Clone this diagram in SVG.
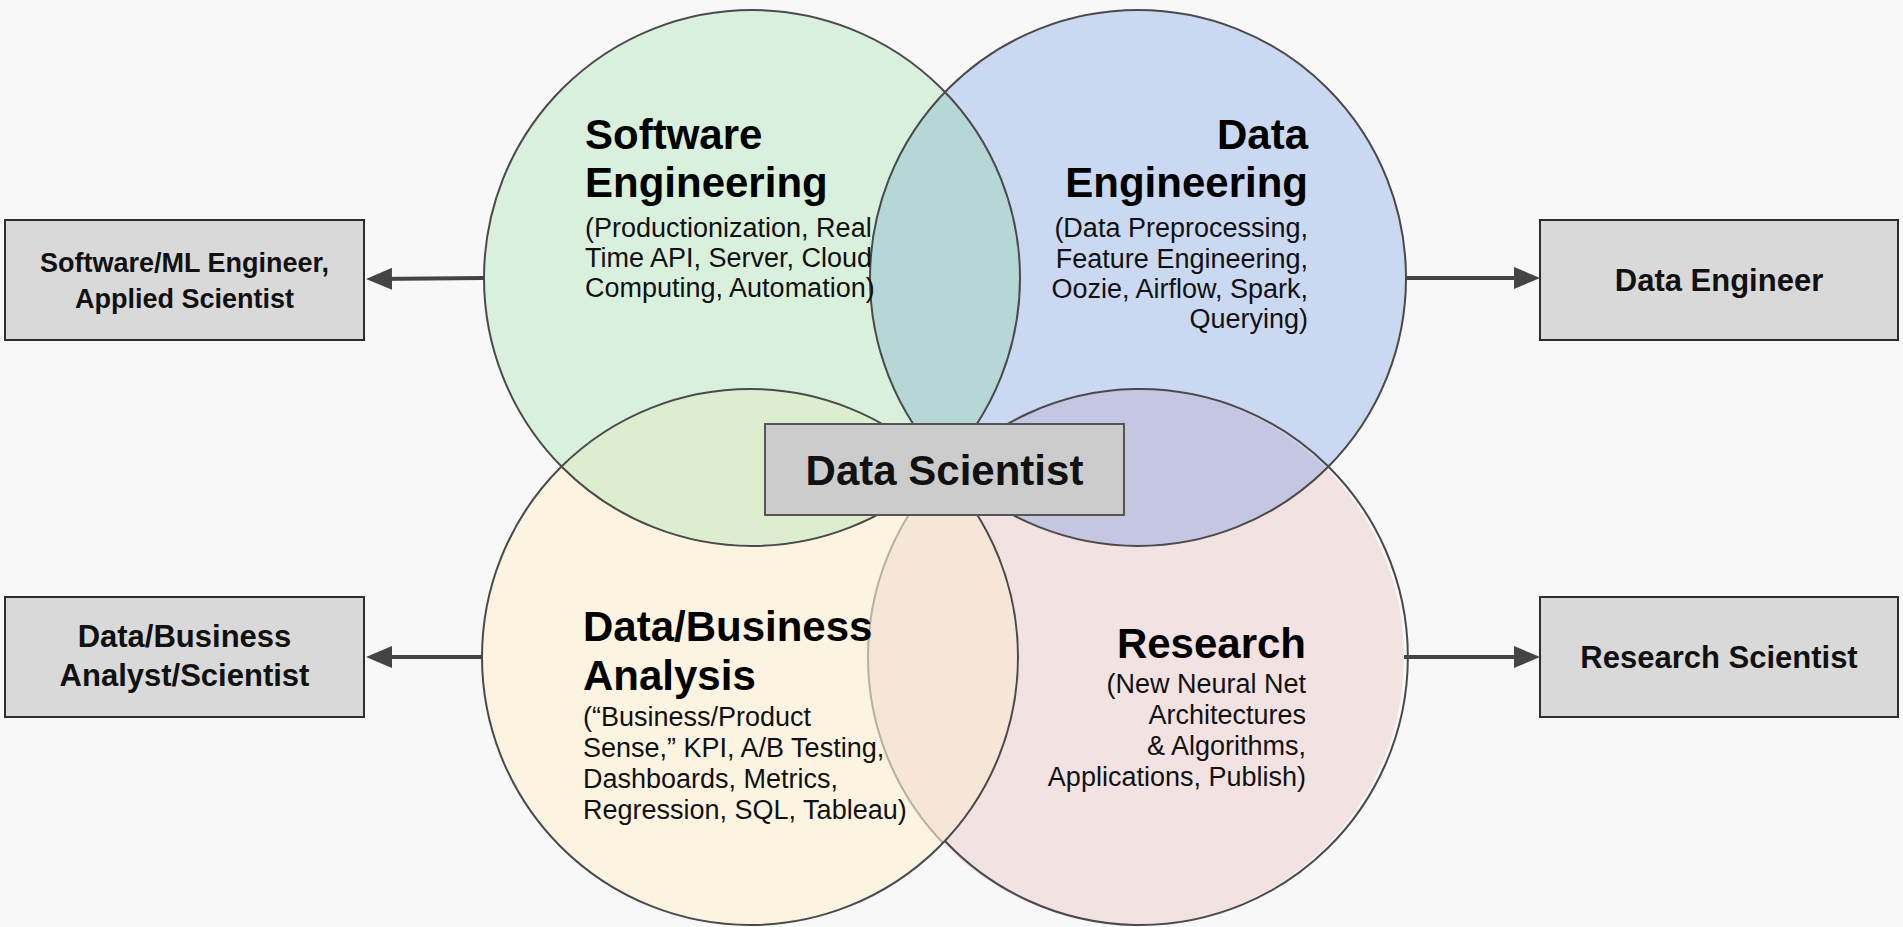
<svg xmlns="http://www.w3.org/2000/svg" width="1903" height="927" viewBox="0 0 1903 927">
  <style>
    .circ { stroke: #4a4a4a; stroke-width: 2; }
    .box { fill: #d9d9d9; stroke: #2e2e2e; stroke-width: 2; }
    .dsbox { fill: #cccccc; stroke: #555555; stroke-width: 2; }
    .head { font-family: "Liberation Sans", Arial, sans-serif; font-weight: bold; font-size: 42px; fill: #000; }
    .sub { font-family: "Liberation Sans", Arial, sans-serif; font-size: 27px; fill: #111; }
    .lbl { font-family: "Liberation Sans", Arial, sans-serif; font-weight: bold; fill: #111; text-anchor: middle; }
    .conn { stroke: #444444; stroke-width: 4; fill: none; marker-end: url(#arrow); }
  </style>
  <defs>
    <marker id="arrow" markerUnits="userSpaceOnUse" markerWidth="26" markerHeight="22" refX="18" refY="11" orient="auto">
      <path d="M0,0 L26,11 L0,22 z" fill="#444444"/>
    </marker>
    <clipPath id="clipGreen"><circle cx="752" cy="278" r="268"/></clipPath>
    <clipPath id="clipBlue"><circle cx="1138" cy="278" r="268"/></clipPath>
    <clipPath id="clipYellow"><circle cx="750" cy="657" r="268"/></clipPath>
    <clipPath id="clipPink"><circle cx="1136" cy="657" r="268"/></clipPath>
  </defs>

  <rect x="0" y="0" width="1903" height="927" fill="#f8f8f8"/>

  <!-- circle fills -->
  <g id="venn-fills">
    <circle cx="752" cy="278" r="268" fill="#d9f0dc"/>
    <circle cx="1138" cy="278" r="268" fill="#cad8f1"/>
    <circle cx="1136" cy="657" r="268" fill="#f2e2e2"/>
    <circle cx="750" cy="657" r="268" fill="#fcf3e1"/>
    <!-- overlaps -->
    <circle cx="1138" cy="278" r="268" fill="#b5d8d6" clip-path="url(#clipGreen)"/>
    <circle cx="750" cy="657" r="268" fill="#ddeecf" clip-path="url(#clipGreen)"/>
    <circle cx="1136" cy="657" r="268" fill="#c5c7e2" clip-path="url(#clipBlue)"/>
    <circle cx="1136" cy="657" r="268" fill="#f6e6d8" clip-path="url(#clipYellow)"/>
  </g>

  <!-- circle outlines -->
  <g id="venn-outlines" fill="none">
    <circle class="circ" cx="752" cy="278" r="268"/>
    <circle class="circ" cx="1138" cy="278" r="268"/>
    <g clip-path="url(#clipYellow)">
      <circle cx="1136" cy="657" r="268" stroke="#b9b09f" stroke-width="2"/>
    </g>
    <path class="circ" d="M 945 841 A 268 268 0 1 0 945 473"/>
    <circle class="circ" cx="750" cy="657" r="268"/>
  </g>

  <g id="software-engineering">
    <text class="head" x="585" y="149">Software</text>
    <text class="head" x="585" y="197">Engineering</text>
    <text class="sub" x="585" y="237">(Productionization, Real</text>
    <text class="sub" x="585" y="267">Time API, Server, Cloud</text>
    <text class="sub" x="585" y="297">Computing, Automation)</text>
  </g>

  <g id="data-engineering" text-anchor="end">
    <text class="head" x="1308" y="149">Data</text>
    <text class="head" x="1308" y="197">Engineering</text>
    <text class="sub" x="1308" y="237">(Data Preprocessing,</text>
    <text class="sub" x="1308" y="267.5">Feature Engineering,</text>
    <text class="sub" x="1308" y="298">Oozie, Airflow, Spark,</text>
    <text class="sub" x="1308" y="328">Querying)</text>
  </g>

  <g id="data-business-analysis">
    <text class="head" x="583" y="641">Data/Business</text>
    <text class="head" x="583" y="690">Analysis</text>
    <text class="sub" x="583" y="726">(“Business/Product</text>
    <text class="sub" x="583" y="757">Sense,” KPI, A/B Testing,</text>
    <text class="sub" x="583" y="788">Dashboards, Metrics,</text>
    <text class="sub" x="583" y="819">Regression, SQL, Tableau)</text>
  </g>

  <g id="research" text-anchor="end">
    <text class="head" x="1306" y="658">Research</text>
    <text class="sub" x="1306" y="693">(New Neural Net</text>
    <text class="sub" x="1306" y="724">Architectures</text>
    <text class="sub" x="1306" y="755">&amp; Algorithms,</text>
    <text class="sub" x="1306" y="786">Applications, Publish)</text>
  </g>

  <g id="data-scientist">
    <rect class="dsbox" x="765" y="424" width="359" height="91"/>
    <text class="lbl" x="944.5" y="485" font-size="42">Data Scientist</text>
  </g>

  <g id="software-ml-engineer">
    <rect class="box" x="5" y="220" width="359" height="120"/>
    <text class="lbl" x="184.5" y="272" font-size="27">Software/ML Engineer,</text>
    <text class="lbl" x="184.5" y="308" font-size="27">Applied Scientist</text>
  </g>

  <g id="data-engineer">
    <rect class="box" x="1540" y="220" width="358" height="120"/>
    <text class="lbl" x="1719" y="290.5" font-size="31">Data Engineer</text>
  </g>

  <g id="data-business-analyst">
    <rect class="box" x="5" y="597" width="359" height="120"/>
    <text class="lbl" x="184.5" y="647" font-size="31">Data/Business</text>
    <text class="lbl" x="184.5" y="686" font-size="31">Analyst/Scientist</text>
  </g>

  <g id="research-scientist">
    <rect class="box" x="1540" y="597" width="358" height="120"/>
    <text class="lbl" x="1719" y="668" font-size="31">Research Scientist</text>
  </g>

  <g id="connectors">
    <line class="conn" x1="484" y1="278" x2="374" y2="279"/>
    <line class="conn" x1="1406" y1="278" x2="1532" y2="278"/>
    <line class="conn" x1="482" y1="657" x2="374" y2="657"/>
    <line class="conn" x1="1404" y1="657" x2="1532" y2="657"/>
  </g>
</svg>
